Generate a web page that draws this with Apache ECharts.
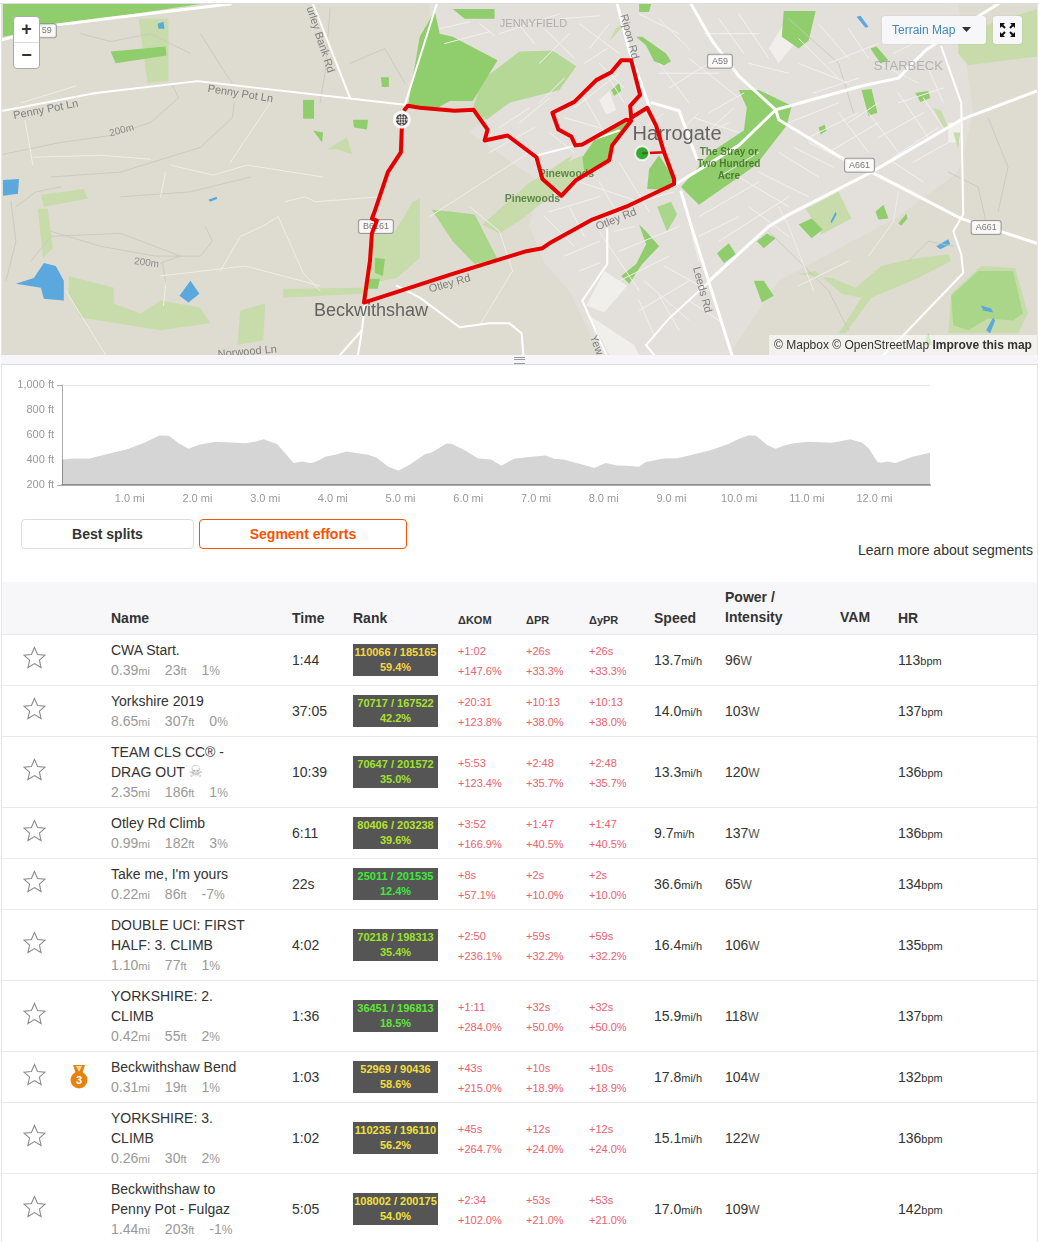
<!DOCTYPE html>
<html><head><meta charset="utf-8">
<script src="https://cdn.jsdelivr.net/npm/echarts@6/dist/echarts.min.js"></script>
<style>
html,body{margin:0;padding:0;background:#fff;width:1039px;height:1242px;overflow:hidden;font-family:"Liberation Sans",Arial,sans-serif;color:#333}
.abs{position:absolute}
#map{position:absolute;left:1px;top:4px;width:1036px;height:351px}
#elev{position:absolute;left:0;top:365px;width:1039px;height:140px}
.ctl{position:absolute;background:#f7f7fa;border-radius:3px;box-shadow:0 0 2px rgba(0,0,0,.1)}
.btn{position:absolute;box-sizing:border-box;height:30px;line-height:28px;text-align:center;font-size:14px;font-weight:bold;border-radius:4px}
.h{position:absolute;font-weight:bold;font-size:14px;color:#333;line-height:20px}
.h.s{font-size:11px}
.sep{position:absolute;left:2px;width:1035px;height:1px;background:#e8e8ec}
.c{position:absolute;font-size:14px;line-height:20px;white-space:nowrap}
.u{font-size:11px}
.sub{color:#999}.sub span{margin-right:15px}.sub .u{margin:0;color:#999}
.r{position:absolute;left:353px;width:85px;height:32px;background:#555;text-align:center;font-size:11px;font-weight:bold;line-height:15px;padding-top:1px;box-sizing:border-box;white-space:nowrap}
.d{position:absolute;font-size:11px;color:#e9616e;line-height:20px;white-space:nowrap}
</style></head><body>
<div id="map"></div>
<div class="abs" style="left:0;top:0;width:1039px;height:4px;background:#fff;border-bottom:1px solid #ddd;box-sizing:border-box"></div>
<div class="abs" style="left:1px;top:4px;width:1px;height:1238px;background:#e6e6e6"></div>
<div class="abs" style="left:1037px;top:4px;width:1px;height:1238px;background:#e6e6e6"></div>
<div class="abs" style="left:1px;top:355px;width:1037px;height:9px;background:#f6f6fa;border-bottom:1px solid #ddd"></div>
<div class="abs" style="left:514px;top:357px;width:11px;height:5px;border-top:1px solid #999;border-bottom:1px solid #999"><div style="height:1px;margin-top:1px;background:#999"></div></div>

<div class="abs" style="left:13px;top:16px;width:25px;height:51px;background:#fff;border:1px solid #aaa;border-radius:4px;text-align:center;font-weight:bold;color:#333;font-size:18px;line-height:25px"><div style="height:25px;border-bottom:1px solid #ddd">+</div><div>−</div></div>
<div class="ctl" style="left:882px;top:16px;width:104px;height:28px;line-height:28px;font-size:12px;color:#3f86bf;padding-left:10px;box-sizing:border-box">Terrain Map<svg width="9" height="5" style="margin-left:7px;vertical-align:2px"><path d="M0 0h9L4.500 5z" fill="#333"/></svg></div>
<div class="ctl" style="left:993px;top:16px;width:29px;height:28px"><svg width="29" height="28"><g stroke="#111" stroke-width="2" fill="none"><path d="M8 8l4 4M21 8l-4 4M8 20l4-4M21 20l-4-4"/></g><g fill="#111"><path d="M7 7h5l-5 5zM22 7h-5l5 5zM7 21h5l-5-5zM22 21h-5l5-5z"/></g></svg></div>
<div class="abs" style="left:769px;top:335px;width:268px;height:20px;line-height:20px;background:rgba(255,255,255,.6);font-size:12px;color:#333;text-align:center;white-space:nowrap">© Mapbox © OpenStreetMap <b>Improve this map</b></div>

<div id="elev"></div>
<div class="btn" style="left:21px;top:519px;width:173px;border:1px solid #ddd;color:#333">Best splits</div>
<div class="btn" style="left:199px;top:519px;width:208px;border:1px solid #fc5200;color:#fc5200">Segment efforts</div>
<div class="abs" style="right:6px;top:542px;font-size:14px;line-height:16px;color:#333">Learn more about segments</div>

<div class="abs" style="left:2px;top:582px;width:1035px;height:52px;background:#f7f7fa;border-bottom:1px solid #ddd"></div>
<div id="table"></div>

<script>
/* ---------- elevation profile ---------- */
const elevMiles=[0,.16,.41,.65,.95,1.19,1.44,1.58,1.73,1.87,2.02,2.27,2.51,2.71,2.88,2.98,3.18,3.3,3.42,3.54,3.67,3.74,3.89,4.03,4.2,4.37,4.52,4.65,4.82,4.97,5.14,5.36,5.46,5.68,5.75,5.95,6.14,6.34,6.49,6.67,6.97,7.14,7.27,7.41,7.71,7.86,8.03,8.2,8.35,8.52,8.62,8.89,9.09,9.58,9.83,10.02,10.15,10.25,10.42,10.54,10.67,10.81,11.01,11.38,11.64,11.82,11.92,12.04,12.09,12.19,12.31,12.56,12.82];
const elevFeet=[405,413,413,447,485,533,597,594,533,490,522,546,540,535,551,567,527,453,376,389,376,384,426,442,469,455,442,418,346,317,365,447,461,533,530,479,415,405,354,410,429,437,410,405,360,336,376,357,354,346,384,413,415,479,527,575,599,594,519,490,517,535,546,538,567,538,490,386,378,389,376,426,458];
/* ---------- table ---------- */
const segNames=[["CWA Start."],["Yorkshire 2019"],["TEAM CLS CC® -","DRAG OUT ☠"],["Otley Rd Climb"],["Take me, I'm yours"],["DOUBLE UCI: FIRST","HALF: 3. CLIMB"],["YORKSHIRE: 2.","CLIMB"],["Beckwithshaw Bend"],["YORKSHIRE: 3.","CLIMB"],["Beckwithshaw to","Penny Pot - Fulgaz"]];
const segDist=["0.39","8.65","2.35","0.99","0.22","1.10","0.42","0.31","0.26","1.44"];
const segClimb=["23","307","186","182","86","77","55","19","30","203"];
const segGrade=["1%","0%","1%","3%","-7%","1%","2%","1%","2%","-1%"];
const segTime=["1:44","37:05","10:39","6:11","22s","4:02","1:36","1:03","1:02","5:05"];
const rankPlace=["110066 / 185165","70717 / 167522","70647 / 201572","80406 / 203238","25011 / 201535","70218 / 198313","36451 / 196813","52969 / 90436","110235 / 196110","108002 / 200175"];
const rankPct=["59.4%","42.2%","35.0%","39.6%","12.4%","35.4%","18.5%","58.6%","56.2%","54.0%"];
const rankColor=["#f6d544","#a9e22e","#9fe22e","#b4e42c","#3fe83a","#9fe22e","#5fe636","#f3de40","#efe23c","#f0e23c"];
const komTime=["+1:02","+20:31","+5:53","+3:52","+8s","+2:50","+1:11","+43s","+45s","+2:34"];
const komPct=["+147.6%","+123.8%","+123.4%","+166.9%","+57.1%","+236.1%","+284.0%","+215.0%","+264.7%","+102.0%"];
const prTime=["+26s","+10:13","+2:48","+1:47","+2s","+59s","+32s","+10s","+12s","+53s"];
const prPct=["+33.3%","+38.0%","+35.7%","+40.5%","+10.0%","+32.2%","+50.0%","+18.9%","+24.0%","+21.0%"];
const speedMph=["13.7","14.0","13.3","9.7","36.6","16.4","15.9","17.8","15.1","17.0"];
const powerW=["96","103","120","137","65","106","118","104","122","109"];
const heartBpm=["113","137","136","136","134","135","137","132","136","142"];
const rowTops=[634,685,736,807,858,909,980,1051,1102,1173];
const rowBottoms=[685,736,807,858,909,980,1051,1102,1173,1244];
const headers=[["Name",111,608,0],["Time",292,608,0],["Rank",353,608,0],["ΔKOM",458,610,1],["ΔPR",526,610,1],["ΔyPR",589,610,1],["Speed",654,608,0],["Power /",725,587,0],["Intensity",725,607,0],["VAM",840,607,0],["HR",898,608,0]];

let html='';
for(const [t,x,y,s] of headers) html+=`<div class="h${s?' s':''}" style="left:${x}px;top:${y}px">${t}</div>`;
const star=(y)=>`<svg class="abs" style="left:23px;top:${y-12}px" width="23" height="23" viewBox="0 0 24 24"><path d="M12 1.500l3.200 7.300 7.800.700-5.900 5.200 1.800 7.800L12 18.300l-6.900 4.200 1.800-7.800L1 9.500l7.800-.7z" fill="none" stroke="#8a8a8a" stroke-width="1.100"/></svg>`;
segNames.forEach((n,i)=>{
  const top=rowTops[i],cy=(top+Math.min(rowBottoms[i],top+ (n.length>1?71:51)))/2;
  html+=`<div class="sep" style="top:${top}px"></div>`;
  html+=star(cy-2);
  n.forEach((l,k)=>{
    html+=`<div class="c" style="left:111px;top:${top+6+k*20}px">${l.replace('☠','<span style="color:#aaa;font-family:DejaVu Sans;font-size:16px;line-height:14px">☠</span>')}</div>`;
  });
  const st=top+6+n.length*20;
  html+=`<div class="c sub" style="left:111px;top:${st}px"><span>${segDist[i]}<span class="u">mi</span></span><span>${segClimb[i]}<span class="u">ft</span></span><span>${segGrade[i].replace('%','<span class="u" style="font-size:12px">%</span>')}</span></div>`;
  html+=`<div class="c" style="left:292px;top:${cy-10}px">${segTime[i]}</div>`;
  html+=`<div class="r" style="top:${cy-16}px;color:${rankColor[i]}">${rankPlace[i]}<br>${rankPct[i]}</div>`;
  const cols=[[458,komTime,komPct],[526,prTime,prPct],[589,prTime,prPct]];
  for(const [x,a,b] of cols){
    html+=`<div class="d" style="left:${x}px;top:${cy-19}px">${a[i]}</div><div class="d" style="left:${x}px;top:${cy+1}px">${b[i]}</div>`;
  }
  html+=`<div class="c" style="left:654px;top:${cy-10}px">${speedMph[i]}<span class="u">mi/h</span></div>`;
  html+=`<div class="c" style="left:725px;top:${cy-10}px">${powerW[i]}<span style="font-size:12px;color:#555">W</span></div>`;
  html+=`<div class="c" style="left:898px;top:${cy-10}px">${heartBpm[i]}<span class="u">bpm</span></div>`;
});
html+=`<svg class="abs" style="left:70px;top:1064px" width="18" height="25" viewBox="0 0 18 25"><path d="M3 1h12l-3 9H6z" fill="#e5830e"/><path d="M6 2h6l-3 6z" fill="#f7d9a8"/><circle cx="9" cy="16" r="8.500" fill="#e5830e"/><text x="9" y="20" font-size="11" font-weight="bold" text-anchor="middle" fill="#fff" font-family="Liberation Sans">3</text></svg>`;
document.getElementById('table').innerHTML=html;

const elev=echarts.init(document.getElementById('elev'));
const axisGrey='#aaa',gridGrey='#e8e8e8',labGrey='#999';
elev.setOption({
  animation:false,
  textStyle:{fontFamily:'Liberation Sans'},
  grid:{left:62,top:20,width:868,height:100,containLabel:false},
  xAxis:{type:'value',min:0,max:12.82,interval:1,
    axisLine:{show:true,onZero:false,lineStyle:{color:axisGrey,width:2}},
    axisTick:{show:true,customValues:[0,12.82],length:5,lineStyle:{color:axisGrey}},
    axisLabel:{showMinLabel:false,showMaxLabel:false,color:labGrey,fontSize:11,margin:8,formatter:v=>v.toFixed(1)+' mi'},
    splitLine:{show:true,showMinLine:false,showMaxLine:false,lineStyle:{color:gridGrey,width:1}}},
  yAxis:{type:'value',min:200,max:1000,interval:200,
    axisLine:{show:true,lineStyle:{color:axisGrey,width:1}},
    axisTick:{show:true,customValues:[200,1000],length:5,lineStyle:{color:axisGrey}},
    axisLabel:{color:labGrey,fontSize:11,margin:8,padding:[2,0,0,0],formatter:v=>(v>=1000?'1,000':v)+' ft'},
    splitLine:{show:true,lineStyle:{color:gridGrey,width:1}}},
  series:[{type:'line',symbol:'none',silent:true,lineStyle:{width:0},
    areaStyle:{color:'rgba(0,0,0,0.165)',opacity:1,origin:'start'},
    data:elevMiles.map((m,i)=>[m,elevFeet[i]])}]
});

/* ---------- map layers (map pixels used as an x/y scale) ---------- */
const urbanAreas=[[[430,0],[960,0],[975,110],[960,170],[900,215],[780,280],[730,355],[600,355],[570,290],[545,262],[530,225],[540,180],[470,130],[505,100],[430,60]]];
const paleAreas=[[[600,97],[610,88],[617,107],[607,112]],[[587,305],[605,270],[628,285],[605,312]],[[590,315],[635,345],[640,355],[610,355]],[[785,20],[800,35],[780,60],[770,45]],[[950,120],[962,120],[962,140],[950,140]]];
const lightParks=[[[483,223],[527,183],[573,153],[553,193],[523,217],[500,232]],[[138,15],[168,15],[168,78],[147,80]],[[68,275],[113,287],[113,303],[140,313],[160,300],[200,307],[210,323],[160,330],[80,317],[68,293]],[[40,193],[83,187],[87,197],[43,205]],[[37,207],[47,207],[52,247],[42,257]],[[283,288],[363,287],[363,293],[283,297]],[[373,233],[393,233],[403,217],[413,200],[420,197],[420,257],[397,277],[367,283]],[[327,147],[347,135],[352,152],[337,147]],[[960,50],[960,30],[1039,5],[1039,53],[970,62]],[[953,293],[983,265],[1017,267],[1030,313],[1020,333],[950,333]],[[807,207],[840,190],[853,217],[823,233]],[[800,273],[833,277],[857,287],[883,265],[913,258],[950,253],[953,260],[920,277],[873,297],[847,333],[840,333],[863,297],[843,293],[817,270]],[[547,170],[583,153],[587,168],[563,192]],[[935,105],[943,108],[950,125],[945,125]],[[955,130],[962,130],[960,147]],[[240,310],[265,303],[263,340],[237,345]],[[616,25],[628,18],[610,38]]];
const golfParks=[[[473,107],[482,77],[520,48],[553,47],[577,63],[560,87],[510,100],[487,117]]];
const midParks=[[[432,208],[453,210],[475,213],[498,258],[475,263],[453,240]],[[658,205],[672,200],[678,213],[668,230]],[[953,295],[980,270],[1015,270],[1025,313],[1015,320],[990,318],[970,330],[955,325]]];
const darkParks=[[[408,104],[420,33],[435,7],[440,30],[453,33],[498,57],[473,98],[450,98],[438,105]],[[453,5],[495,5],[495,15],[465,15]],[[597,135],[630,118],[613,145],[610,158],[585,170],[583,155]],[[640,223],[647,230],[660,245],[643,263],[630,283],[622,275],[637,263],[647,243]],[[740,87],[760,87],[793,103],[788,123],[757,163],[700,203],[682,185],[712,150],[745,128],[748,105]],[[660,153],[677,180],[670,188],[648,187],[650,167]],[[785,7],[817,7],[810,37],[800,45],[783,33]],[[863,87],[873,86],[879,110],[870,113]],[[917,90],[930,88],[932,95],[922,99]],[[872,45],[878,43],[890,57],[882,60]],[[800,223],[813,217],[824,228],[813,237]],[[758,240],[768,232],[777,237],[765,247]],[[718,252],[730,242],[737,253],[725,262]],[[755,280],[765,280],[775,295],[763,302]],[[877,210],[885,203],[890,217],[880,218]],[[900,222],[908,212],[909,217],[903,224]],[[612,87],[620,80],[622,88],[615,93]],[[637,33],[643,33],[667,50],[672,58],[665,62],[655,58],[647,42]],[[110,48],[165,43],[166,52],[115,60]],[[2,0],[200,0],[100,15],[2,33]],[[303,97],[314,97],[314,116],[303,116]],[[353,117],[368,117],[367,127],[354,125]],[[381,74],[389,74],[389,84],[382,84]],[[313,128],[323,130],[322,140]],[[367,278],[380,278],[378,288],[365,288]],[[375,257],[385,258],[383,275],[375,272]],[[640,0],[652,0],[650,8],[640,8]],[[758,132],[770,127],[775,133],[763,138]],[[820,125],[826,122],[828,128],[822,132]],[[934,345],[930,333],[925,345]]];
const waterAreas=[[[2,178],[18,177],[17,192],[2,194]],[[15,283],[33,277],[43,262],[55,265],[63,280],[63,300],[43,298],[40,287]],[[190,280],[199,293],[188,302],[179,295]],[[157,20],[163,18],[164,25],[158,25]],[[858,13],[862,12],[870,23],[867,24]],[[832,220],[837,210],[838,213],[833,222]],[[938,245],[950,238],[952,243],[942,248]],[[988,330],[995,317],[997,320],[992,333]],[[208,198],[216,195],[217,197],[210,200]],[[983,305],[993,308],[995,312],[985,310]]];
const majorRoads=[[[2,36],[50,22],[105,15],[230,0]],[[618,0],[630,47],[650,103]],[[692,0],[713,37],[740,73],[777,107],[780,117],[847,158],[877,172],[963,217],[1039,242]],[[777,107],[863,83],[900,75],[927,47],[960,25],[1000,0]],[[710,280],[770,225],[790,213],[873,170],[963,117],[1039,88]],[[682,190],[693,227],[733,355]],[[677,182],[740,143],[777,107]],[[653,100],[680,108],[687,127],[698,157]]];
const minorRoads=[[[2,108],[95,90],[197,78],[405,102]],[[313,0],[350,95]],[[405,102],[437,0]],[[365,302],[362,330],[340,355]],[[362,330],[358,355]],[[397,285],[420,297],[460,327],[490,323],[510,323],[522,333],[524,355]],[[538,153],[577,143],[620,128]],[[943,43],[963,100],[965,213],[955,230],[963,253],[965,272],[903,337],[885,355]],[[608,227],[608,263],[583,300],[607,355]],[[647,345],[670,318],[740,253]],[[647,345],[655,355]]];
const paleRoads=[[[32,155],[100,153],[150,157]],[[230,160],[270,100]],[[170,163],[213,173],[247,163],[323,175]],[[20,100],[75,83]],[[24,118],[32,163]],[[160,195],[165,170]],[[278,215],[303,272],[320,290]],[[220,270],[240,235],[262,225],[278,215]],[[160,275],[245,265],[320,285]],[[65,290],[105,355]],[[163,305],[165,285]],[[285,200],[305,195],[315,200],[380,195]],[[470,205],[500,230],[513,270]],[[430,215],[530,150]],[[480,325],[513,270]],[[815,290],[790,225],[780,205]],[[800,285],[850,260]],[[870,255],[895,220],[900,190]]];
const streets=[[[705,30],[760,30]],[[690,55],[740,95]],[[660,70],[720,70]],[[670,85],[710,60]],[[710,110],[745,90]],[[700,135],[730,120]],[[790,120],[840,100]],[[810,135],[860,110]],[[830,150],[880,120]],[[840,110],[870,150]],[[870,110],[900,150]],[[900,90],[930,135]],[[925,95],[945,125]],[[800,60],[850,80]],[[800,35],[840,75]],[[830,60],[880,40]],[[880,60],[920,80]],[[930,65],[945,100]],[[700,215],[760,180]],[[720,240],[790,195]],[[740,175],[790,205]],[[760,170],[810,195]],[[700,260],[690,220]],[[620,250],[680,225]],[[620,280],[670,255]],[[600,230],[640,290]],[[645,280],[690,320]],[[665,265],[710,290]],[[640,310],[690,280]],[[690,300],[720,320]],[[550,210],[600,195]],[[560,235],[620,210]],[[580,180],[640,200]],[[620,160],[650,210]],[[540,60],[570,30]],[[580,20],[620,50]],[[590,45],[610,20]],[[500,30],[560,10]],[[515,15],[535,40]],[[545,25],[575,55]],[[610,75],[625,100]],[[575,105],[620,70]],[[565,115],[600,125]],[[585,95],[605,130]],[[490,150],[535,125]],[[640,130],[665,110]],[[660,60],[690,100]],[[695,115],[740,130]],[[697,140],[735,105]],
[[440,25],[470,18]],[[445,40],[490,28]],[[480,20],[495,32]],[[560,15],[600,12]],[[585,60],[608,45]],[[640,10],[680,30]],[[660,15],[690,45]],[[720,15],[745,50]],[[740,10],[770,55]],[[750,60],[790,70]],[[820,20],[850,55]],[[850,25],[870,55]],[[895,50],[925,35]],[[900,100],[945,85]],[[815,90],[860,75]],[[850,120],[880,100]],[[880,135],[925,110]],[[895,155],[940,125]],[[915,160],[950,140]],[[895,160],[925,180]],[[720,175],[760,150]],[[780,150],[820,175]],[[795,145],[835,165]],[[810,140],[850,160]],[[750,205],[790,235]],[[700,235],[740,215]],[[640,200],[675,190]],[[600,180],[620,215]],[[570,205],[585,235]],[[640,300],[655,335]],[[660,295],[680,330]],[[615,230],[635,225]],[[545,215],[575,245]],[[565,255],[600,240]],[[580,270],[600,262]],[[650,120],[670,135]],[[680,130],[700,110]],[[600,60],[625,85]],[[540,100],[565,75]],[[550,130],[575,150]],[[500,125],[530,105]],[[520,120],[550,95]]];
const contours=[[[2,152],[60,140],[110,133],[150,120],[178,95],[172,82]],[[50,175],[120,170],[200,145],[232,115],[234,100]],[[30,260],[50,235],[120,232],[180,255],[160,262]],[[50,230],[100,245],[155,255],[200,255],[212,240],[205,225]],[[162,262],[165,280]],[[330,5],[325,70],[320,100]],[[200,30],[225,70],[232,80]],[[80,30],[110,38],[150,30],[190,50]],[[350,60],[385,45],[405,80]],[[15,205],[35,190],[60,185]],[[5,280],[15,240],[10,200]],[[120,195],[190,190],[250,175]],[[855,110],[840,60],[790,15]],[[990,115],[1010,165],[1000,210]],[[950,170],[980,185],[990,230]],[[910,260],[930,240],[955,245]],[[770,230],[830,290],[850,330]]];
const racePath=[[402,125],[401,150],[388,170],[374,212],[372,217],[377,219],[372,232],[370,260],[364,302],[453,273],[527,250],[543,247],[550,242],[593,218],[627,205],[675,182],[675,177],[665,150],[657,123],[648,105],[632,115],[631,103],[641,92],[632,57],[622,57],[612,69],[597,77],[575,99],[553,110],[559,127],[572,134],[576,143],[583,142],[627,117],[632,118],[613,143],[610,158],[577,178],[562,194],[543,177],[537,155],[508,133],[485,138],[488,127],[474,107],[455,108],[420,105],[408,103],[404,108]];
const raceSpur=[[665,150],[643,151]];
const startPoint=[402,117];
const currentPoint=[643,151];
/* [text, x, y, rotate, size, colour, bold] */
const placeLabels=[["Penny Pot Ln",45,107,11,11,"#666",0],["Penny Pot Ln",240,91,-9,11,"#666",0],["urley Bank Rd",320,36,-72,11,"#666",0],["200m",121,128,15,10,"#777",0],["200m",146,262,-8,10,"#777",0],["Norwood Ln",247,352,5,11,"#666",0],["Beckwithshaw",371,311,0,18,"#444",0],["Harrogate",678,132,0,20,"#444",0],["JENNYFIELD",534,20,0,11,"#a0a0a0",0],["STARBECK",910,63,0,13,"#a5a5a5",0],["Ripon Rd",630,33,-75,11,"#666",0],["Pinewoods",567,172,0,10.500,"#44702a",1],["Pinewoods",533,197,0,10.500,"#44702a",1],["The Stray or\nTwo Hundred\nAcre",730,162,0,10,"#3c6a22",1],["Otley Rd",450,283,16,11,"#666",0],["Otley Rd",617,218,22,11,"#666",0],["Leeds Rd",703,289,-75,11,"#666",0],["Yew",597,345,-70,11,"#666",0]];
const shieldLabels=[["59",46,27],["A59",721,58],["A661",861,163],["A661",988,226],["B6161",376,225]];

const polyLayer=(polys,fill,z)=>({type:'custom',silent:true,z,coordinateSystem:'cartesian2d',data:polys.map((_,i)=>[i]),
  renderItem:(p,api)=>({type:'polygon',shape:{points:polys[p.dataIndex].map(q=>api.coord(q))},style:{fill}})});
const pathLayer=(paths,stroke,width,z)=>({type:'custom',silent:true,z,coordinateSystem:'cartesian2d',data:paths.map((_,i)=>[i]),
  renderItem:(p,api)=>({type:'polyline',shape:{points:paths[p.dataIndex].map(q=>api.coord(q))},style:{stroke,fill:null,lineWidth:width,lineJoin:'round',lineCap:'round'}})});

const checker='path://M0 0h2v2H0zM4 0h2v2H4zM8 0h2v2H8zM2 2h2v2H2zM6 2h2v2H6zM0 4h2v2H0zM4 4h2v2H4zM8 4h2v2H8zM2 6h2v2H2zM6 6h2v2H6zM0 8h2v2H0zM4 8h2v2H4zM8 8h2v2H8z';
const map=echarts.init(document.getElementById('map'));
map.setOption({
  animation:false,backgroundColor:'#dedcd1',
  textStyle:{fontFamily:'Liberation Sans'},
  grid:{left:-1,top:-4,right:-2,bottom:0,containLabel:false},
  xAxis:{type:'value',min:0,max:1039,show:false},
  yAxis:{type:'value',min:0,max:355,inverse:true,show:false},
  series:[
    polyLayer(urbanAreas,'#e3e0dc',1),
    polyLayer(paleAreas,'#f0efec',2),
    polyLayer(lightParks,'#c8dcab',2),
    polyLayer(golfParks,'#b6d896',2),
    polyLayer(midParks,'#a9d688',3),
    polyLayer(darkParks,'#90cd6c',3),
    polyLayer(waterAreas,'#5aa8de',4),
    pathLayer(contours,'#c8c6ba',0.8,4),
    pathLayer(streets,'#f2f1ee',1,4),
    pathLayer(paleRoads,'#efeee8',1,5),
    pathLayer(minorRoads,'#ffffff',2,5),
    pathLayer(majorRoads,'#ffffff',3,5),
    {type:'scatter',silent:true,z:6,symbolSize:0,
      data:placeLabels.map(l=>({value:[l[1],l[2]],label:{show:true,position:'inside',formatter:l[0],rotate:l[3],fontSize:l[4],color:l[5],fontWeight:l[6]?'bold':'normal',lineHeight:l[4]+2,align:'center',verticalAlign:'middle'}}))},
    {type:'scatter',silent:true,z:6,symbolSize:0,
      data:shieldLabels.map(l=>({value:[l[1],l[2]],label:{show:true,position:'inside',formatter:l[0],fontSize:9,color:'#555',backgroundColor:'#fff',borderColor:'#888',borderWidth:1,borderRadius:2,padding:[2,4],align:'center',verticalAlign:'middle'}}))},
    {type:'line',silent:true,z:8,symbol:'none',clip:true,lineStyle:{color:'#e50000',width:4,join:'round'},data:racePath},
    {type:'line',silent:true,z:8,symbol:'none',lineStyle:{color:'#e50000',width:2.500},data:raceSpur},
    {type:'scatter',silent:true,z:9,symbol:'circle',symbolSize:14,itemStyle:{color:'#0a9a0a',borderColor:'#fff',borderWidth:2},data:[currentPoint]},
    {type:'scatter',silent:true,z:9,symbol:'circle',symbolSize:18,itemStyle:{color:'#fff'},data:[startPoint]},
    {type:'scatter',silent:true,z:10,symbol:'circle',symbolSize:12,itemStyle:{color:'#222'},data:[startPoint]},
    {type:'scatter',silent:true,z:11,symbol:checker,symbolRotate:45,symbolSize:9,itemStyle:{color:'#fff'},data:[startPoint]}
  ]
});
</script>
</body></html>
